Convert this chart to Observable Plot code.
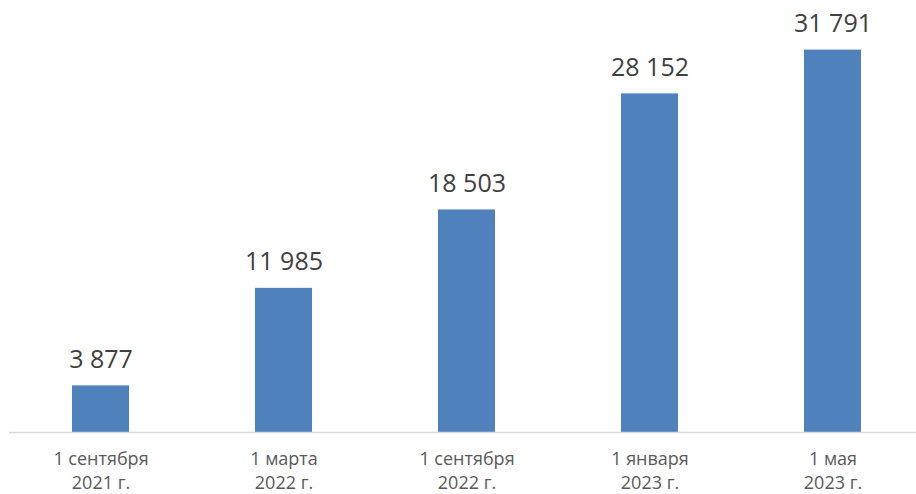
<!DOCTYPE html>
<html><head><meta charset="utf-8">
<script src="https://cdn.jsdelivr.net/npm/d3@7"></script>
<script src="https://cdn.jsdelivr.net/npm/@observablehq/plot@0.6"></script>
<style>body{margin:0;background:#fff;} #chart{width:916px;height:494px;}</style>
</head><body><div id="chart"></div>
<script>
const categories = ["1 сентября\n2021 г.", "1 марта\n2022 г.", "1 сентября\n2022 г.", "1 января\n2023 г.", "1 мая\n2023 г."];
const values = [3877, 11985, 18503, 28152, 31791];
const valueLabels = ["3 877", "11 985", "18 503", "28 152", "31 791"];

const data = categories.map((c, i) => ({cat: c, v: values[i], label: valueLabels[i]}));

const chart = Plot.plot({
  width: 916,
  height: 494,
  marginLeft: 9,
  marginRight: 0,
  marginTop: 11,
  marginBottom: 62,
  style: {fontFamily: "'Open Sans', sans-serif", background: "#fff"},
  x: {domain: categories, range: [9, 924], padding: 0, label: null},
  y: {domain: [0, 35000], axis: null},
  marks: [
    Plot.barY(data, {x: "cat", y: "v", fill: "#4f81bd", insetLeft: 63, insetRight: 63}),
    Plot.ruleY([0], {stroke: "#d9d9d9", strokeWidth: 1.3}),
    Plot.text(data, {x: "cat", y: "v", text: "label", dy: -18, lineAnchor: "bottom", fontSize: 25, fill: "#404040"}),
    Plot.axisX({tickSize: 0, tickPadding: 15, fontSize: 18, lineHeight: 1.35, color: "#595959", label: null})
  ]
});
document.getElementById("chart").appendChild(chart);
</script></body></html>
